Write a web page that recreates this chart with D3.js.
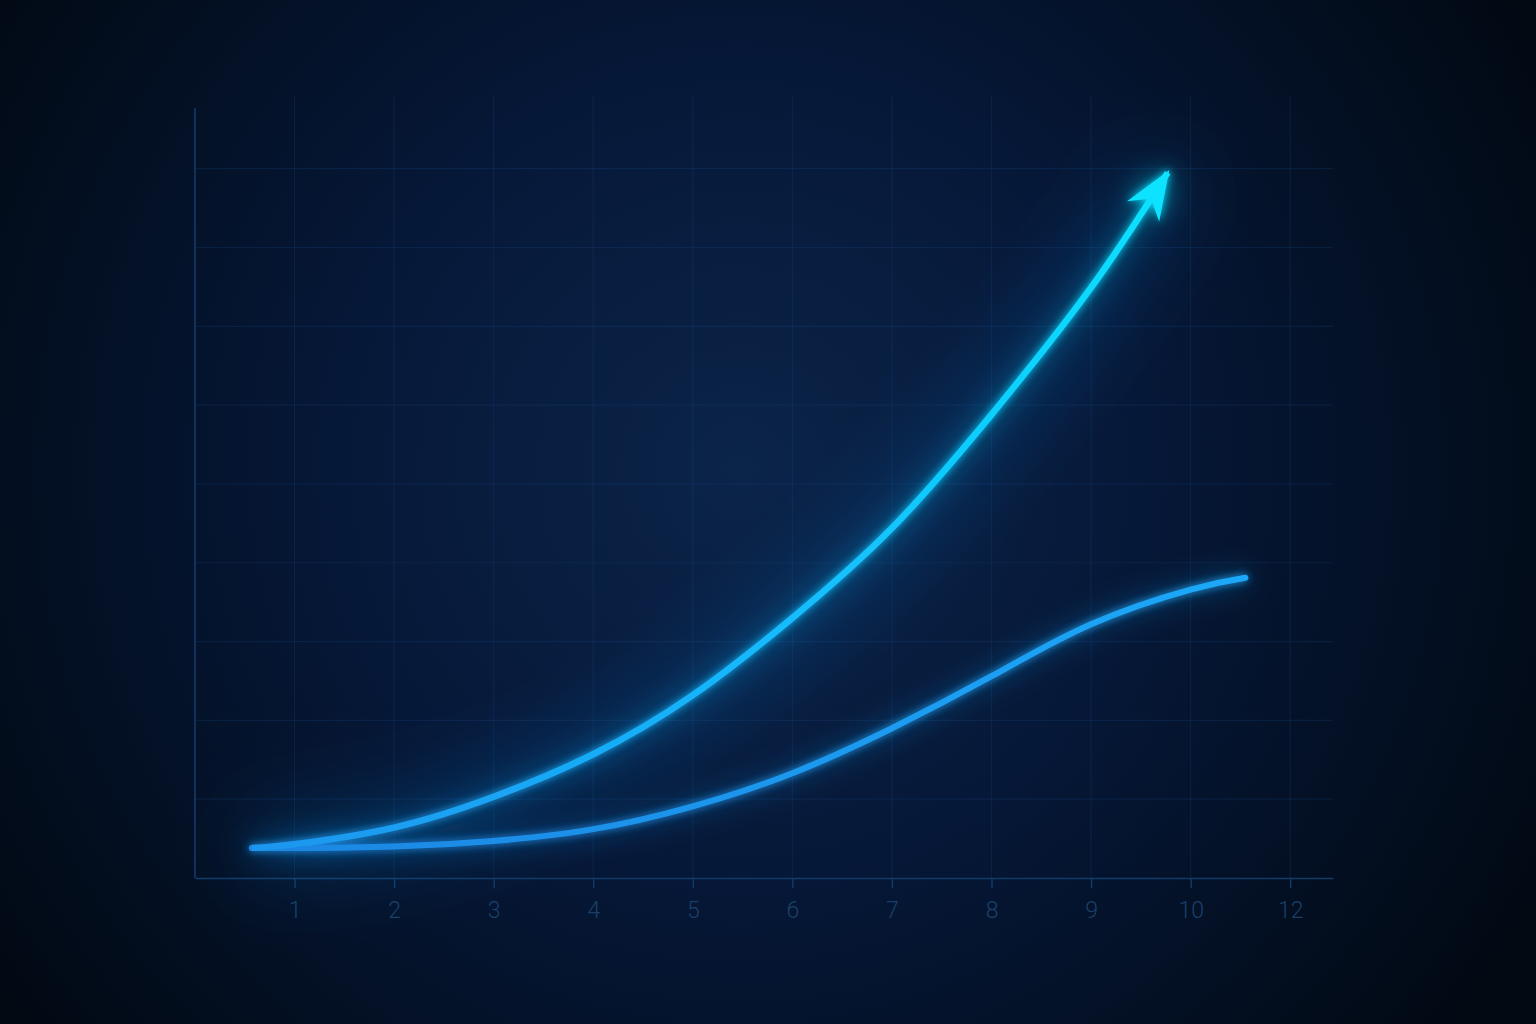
<!DOCTYPE html>
<html>
<head>
<meta charset="utf-8">
<script src="https://cdn.jsdelivr.net/npm/d3@7"></script>
<style>
  html, body { margin: 0; padding: 0; background: #020b1a; }
  svg { display: block; }
  .x-axis text { font-family: Roboto, "Open Sans", sans-serif; font-weight: 300; }
</style>
</head>
<body>
<div id="chart"></div>
<script>
// tick labels along the bottom (evenly spaced, note the 11 is missing)
var xLabels = ["1", "2", "3", "4", "5", "6", "7", "8", "9", "10", "12"];
var xTicks = xLabels.map(function(d, i) { return i + 1; });
var yTicks = [1, 2, 3, 4, 5, 6, 7, 8, 9];

// upper (arrow) series, x in tick-position units
var upperX = [0.57, 1, 2, 3, 4, 5, 6, 7, 8, 9, 9.77];
var upperY = [0.38, 0.43, 0.64, 1.03, 1.57, 2.32, 3.30, 4.44, 5.88, 7.49, 8.95];

// lower series
var lowerX = [0.57, 1, 2, 3, 4, 5, 6, 7, 8, 9, 10, 10.55];
var lowerY = [0.38, 0.38, 0.40, 0.47, 0.62, 0.91, 1.33, 1.90, 2.56, 3.22, 3.66, 3.81];

var width = 1536, height = 1024;
var margin = {left: 195, top: 108, right: 203, bottom: 146};
var innerW = width - margin.left - margin.right;
var innerH = height - margin.top - margin.bottom;

var x = d3.scaleLinear().domain([0, 11.43]).range([0, innerW]);
var y = d3.scaleLinear().domain([0, 9.77]).range([innerH, 0]);

var svg = d3.select("#chart").append("svg")
    .attr("width", width)
    .attr("height", height);

var defs = svg.append("defs");

var bg = defs.append("radialGradient")
    .attr("id", "bg")
    .attr("gradientUnits", "userSpaceOnUse")
    .attr("cx", 740).attr("cy", 470).attr("r", 900);
bg.append("stop").attr("offset", 0).attr("stop-color", "#0b2449");
bg.append("stop").attr("offset", 0.45).attr("stop-color", "#061838");
bg.append("stop").attr("offset", 1).attr("stop-color", "#010913");

// soft glow for the lines
var glow = defs.append("filter")
    .attr("id", "glow")
    .attr("x", "-20%").attr("y", "-20%")
    .attr("width", "140%").attr("height", "140%");
glow.append("feGaussianBlur").attr("in", "SourceGraphic").attr("stdDeviation", 14).attr("result", "wide");
glow.append("feGaussianBlur").attr("in", "SourceGraphic").attr("stdDeviation", 4).attr("result", "near");
glow.append("feComponentTransfer").attr("in", "wide").attr("result", "wideDim")
    .append("feFuncA").attr("type", "linear").attr("slope", 0.7);
var merge = glow.append("feMerge");
merge.append("feMergeNode").attr("in", "wideDim");
merge.append("feMergeNode").attr("in", "near");
merge.append("feMergeNode").attr("in", "SourceGraphic");

var halo = defs.append("filter")
    .attr("id", "halo")
    .attr("x", "-30%").attr("y", "-30%")
    .attr("width", "160%").attr("height", "160%");
halo.append("feGaussianBlur").attr("stdDeviation", 40);

svg.append("rect")
    .attr("width", width)
    .attr("height", height)
    .attr("fill", "url(#bg)");

var g = svg.append("g")
    .attr("transform", "translate(" + margin.left + "," + margin.top + ")");

// grid
g.append("g")
    .attr("class", "grid-v")
    .selectAll("line")
    .data(xTicks)
    .enter().append("line")
    .attr("x1", function(d) { return x(d); })
    .attr("x2", function(d) { return x(d); })
    .attr("y1", -12)
    .attr("y2", innerH)
    .attr("stroke", "#1b4f8a")
    .attr("stroke-opacity", 0.22)
    .attr("stroke-width", 1.2);

g.append("g")
    .attr("class", "grid-h")
    .selectAll("line")
    .data(yTicks)
    .enter().append("line")
    .attr("x1", 0)
    .attr("x2", innerW)
    .attr("y1", function(d) { return y(d); })
    .attr("y2", function(d) { return y(d); })
    .attr("stroke", "#1b4f8a")
    .attr("stroke-opacity", 0.22)
    .attr("stroke-width", 1.2);

// axes
var xAxis = d3.axisBottom(x)
    .tickValues(xTicks)
    .tickFormat(function(d, i) { return xLabels[i]; })
    .tickSize(10)
    .tickPadding(14)
    .tickSizeOuter(0);

var xg = g.append("g")
    .attr("class", "x-axis")
    .attr("transform", "translate(0," + innerH + ")")
    .call(xAxis);
xg.select(".domain").attr("stroke", "#123b68").attr("stroke-width", 1.6);
xg.selectAll(".tick line").attr("stroke", "#123b68").attr("stroke-width", 1.4);
xg.selectAll(".tick text")
    .attr("fill", "#1b4067")
    .attr("font-size", 23);

g.append("line")
    .attr("class", "y-axis")
    .attr("x1", 0).attr("x2", 0)
    .attr("y1", 0).attr("y2", innerH)
    .attr("stroke", "#123b68")
    .attr("stroke-width", 1.6);

// line gradients
var upGrad = defs.append("linearGradient")
    .attr("id", "up-grad")
    .attr("gradientUnits", "userSpaceOnUse")
    .attr("x1", x(upperX[0])).attr("y1", y(upperY[0]))
    .attr("x2", x(upperX[upperX.length - 1])).attr("y2", y(upperY[upperY.length - 1]));
upGrad.append("stop").attr("offset", 0).attr("stop-color", "#1f95ee");
upGrad.append("stop").attr("offset", 0.45).attr("stop-color", "#14b8fc");
upGrad.append("stop").attr("offset", 1).attr("stop-color", "#0de2ff");

var lowGrad = defs.append("linearGradient")
    .attr("id", "low-grad")
    .attr("gradientUnits", "userSpaceOnUse")
    .attr("x1", x(lowerX[0])).attr("y1", y(lowerY[0]))
    .attr("x2", x(lowerX[lowerX.length - 1])).attr("y2", y(lowerY[lowerY.length - 1]));
lowGrad.append("stop").attr("offset", 0).attr("stop-color", "#1c86e2");
lowGrad.append("stop").attr("offset", 1).attr("stop-color", "#1ea8f8");

defs.append("marker")
    .attr("id", "arrow")
    .attr("markerUnits", "userSpaceOnUse")
    .attr("viewBox", "-50 -24 54 48")
    .attr("refX", 0).attr("refY", 0)
    .attr("markerWidth", 54).attr("markerHeight", 48)
    .attr("orient", "auto")
    .append("path")
    .attr("d", "M3,0 L-46,-19 L-31,0 L-46,19 Z")
    .attr("fill", "#0de2ff");

var line = d3.line()
    .x(function(d) { return x(d[0]); })
    .y(function(d) { return y(d[1]); })
    .curve(d3.curveNatural);

var upper = d3.zip(upperX, upperY);
var lower = d3.zip(lowerX, lowerY);

// wide soft halo behind upper curve
g.append("path")
    .datum(upper)
    .attr("d", line)
    .attr("fill", "none")
    .attr("stroke", "#0f7fe0")
    .attr("stroke-opacity", 0.35)
    .attr("stroke-width", 40)
    .attr("filter", "url(#halo)");

var lines = g.append("g").attr("filter", "url(#glow)");

lines.append("path")
    .datum(lower)
    .attr("class", "line lower")
    .attr("d", line)
    .attr("fill", "none")
    .attr("stroke", "url(#low-grad)")
    .attr("stroke-width", 6)
    .attr("stroke-linecap", "round");

lines.append("path")
    .datum(upper)
    .attr("class", "line upper")
    .attr("d", line)
    .attr("fill", "none")
    .attr("stroke", "url(#up-grad)")
    .attr("stroke-width", 6.5)
    .attr("stroke-linecap", "butt")
    .attr("marker-end", "url(#arrow)");
</script>
</body>
</html>
